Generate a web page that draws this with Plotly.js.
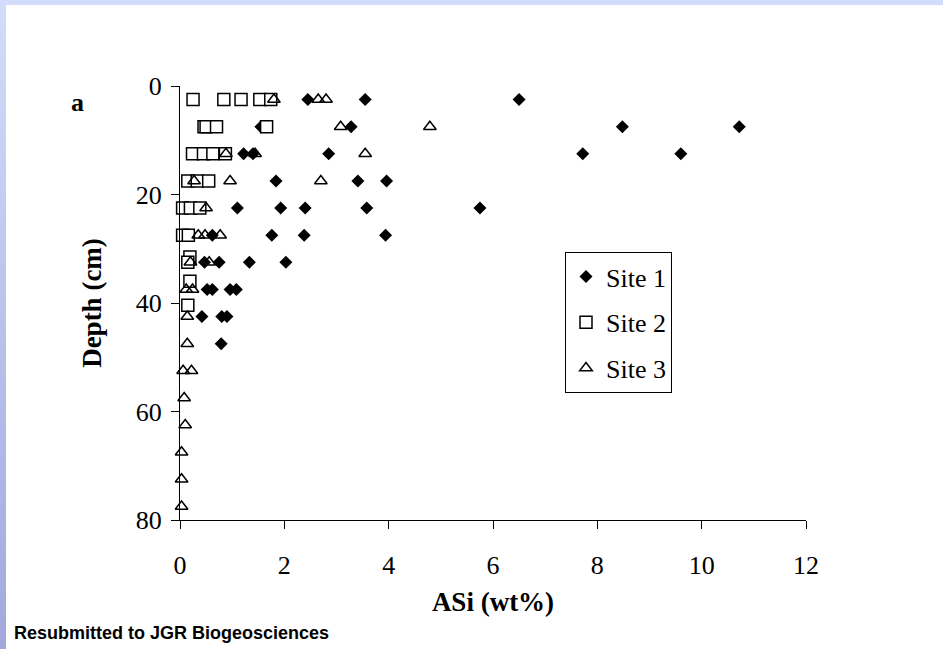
<!DOCTYPE html>
<html>
<head>
<meta charset="utf-8">
<script src="https://cdn.plot.ly/plotly-3.0.1.min.js"></script>
<style>
  html, body { margin: 0; padding: 0; background: #ffffff; width: 943px; height: 649px; overflow: hidden; }
  #topstrip { position: absolute; left: 0; top: 0; width: 943px; height: 5px; background: #d3dcfb; }
  #leftstrip { position: absolute; left: 0; top: 0; width: 6px; height: 649px; background: linear-gradient(to bottom, #d3dcfb, #a2a8dc); }
  #chart { position: absolute; left: 0; top: 0; width: 943px; height: 649px; }
</style>
</head>
<body>
<div id="topstrip"></div>
<div id="leftstrip"></div>
<div id="chart"></div>
<script>
// Site 1 (filled diamonds)
const site1Depth = [2.5, 2.5, 2.5,
  7.5, 7.5, 7.5, 7.5,
  12.5, 12.5, 12.5, 12.5, 12.5,
  17.5, 17.5, 17.5,
  22.5, 22.5, 22.5, 22.5, 22.5,
  27.5, 27.5, 27.5, 27.5,
  32.5, 32.5, 32.5, 32.5,
  37.5, 37.5, 37.5, 37.5,
  42.5, 42.5, 42.5,
  47.5];
const site1ASi = [2.45, 3.55, 6.5,
  1.55, 3.28, 8.48, 10.72,
  1.22, 1.40, 2.85, 7.72, 9.6,
  1.84, 3.41, 3.96,
  1.1, 1.93, 2.4, 3.58, 5.75,
  0.62, 1.76, 2.38, 3.94,
  0.47, 0.75, 1.33, 2.03,
  0.52, 0.62, 0.96, 1.08,
  0.42, 0.8, 0.9,
  0.79];

// Site 2 (open squares)
const site2Depth = [2.5, 2.5, 2.5, 2.5, 2.5,
  7.5, 7.5, 7.5, 7.5,
  12.5, 12.5, 12.5, 12.5,
  17.5, 17.5, 17.5,
  22.5, 22.5, 22.5,
  27.5, 27.5,
  31.5, 32.5,
  36, 40.4];
const site2ASi = [0.25, 0.84, 1.17, 1.53, 1.74,
  0.46, 0.5, 0.7, 1.66,
  0.24, 0.45, 0.63, 0.87,
  0.15, 0.33, 0.55,
  0.05, 0.2, 0.38,
  0.05, 0.16,
  0.19, 0.15,
  0.19, 0.15];

// Site 3 (open triangles)
const site3Depth = [2.5, 2.5, 2.5,
  7.5, 7.5,
  12.5, 12.5, 12.5,
  17.5, 17.5, 17.5,
  22.5,
  27.5, 27.5, 27.5,
  32.5, 32.5,
  37.5, 37.5,
  42.5,
  47.5,
  52.5, 52.5,
  57.5, 62.5, 67.5, 72.5, 77.5];
const site3ASi = [1.8, 2.65, 2.8,
  3.08, 4.79,
  0.88, 1.44, 3.55,
  0.27, 0.96, 2.7,
  0.5,
  0.35, 0.48, 0.77,
  0.2, 0.56,
  0.12, 0.24,
  0.14,
  0.14,
  0.06, 0.22,
  0.08, 0.1, 0.03, 0.03, 0.03];

const seriesNames = ['Site 1', 'Site 2', 'Site 3'];
const xTickVals = [0, 2, 4, 6, 8, 10, 12];
const yTickVals = [0, 20, 40, 60, 80];

const serif = 'Liberation Serif, Times New Roman, serif';

const traces = [
  {
    x: site1ASi, y: site1Depth, name: seriesNames[0], type: 'scatter', mode: 'markers',
    legendgroup: 'g1', cliponaxis: false,
    marker: { symbol: 'diamond', size: 10, color: '#000000', line: { width: 0 } }
  },
  {
    x: site2ASi, y: site2Depth, name: seriesNames[1], type: 'scatter', mode: 'markers',
    legendgroup: 'g2', cliponaxis: false,
    marker: { symbol: 'square', size: 12, color: '#ffffff', line: { width: 1.5, color: '#000000' } }
  },
  {
    x: site3ASi, y: site3Depth, name: seriesNames[2], type: 'scatter', mode: 'markers',
    legendgroup: 'g3', cliponaxis: false,
    marker: { symbol: 'triangle-up-open', size: 11, color: '#000000', line: { width: 1.5, color: '#000000' } }
  }
];

const layout = {
  width: 943, height: 649,
  margin: { l: 180, r: 137, t: 86, b: 129, pad: 0 },
  paper_bgcolor: 'rgba(0,0,0,0)',
  plot_bgcolor: 'rgba(0,0,0,0)',
  showlegend: true,
  legend: {
    x: 0.615, y: 0.6175, xanchor: 'left', yanchor: 'top',
    bgcolor: '#ffffff', bordercolor: '#000000', borderwidth: 1,
    font: { family: serif, size: 26, color: '#000000' },
    traceorder: 'grouped', tracegroupgap: 9
  },
  xaxis: {
    range: [0, 12], tickvals: xTickVals, ticktext: xTickVals.map(String),
    ticks: 'outside', ticklen: 8, tickwidth: 1, tickcolor: '#000000',
    showline: true, linecolor: '#000000', linewidth: 1,
    showgrid: false, zeroline: false, mirror: false,
    tickfont: { family: serif, size: 26, color: '#000000' },
    ticklabelstandoff: 14,
    title: { text: '<b>ASi (wt%)</b>', font: { family: serif, size: 27, color: '#000000' }, standoff: 12 }
  },
  yaxis: {
    range: [80, 0], tickvals: yTickVals, ticktext: yTickVals.map(String),
    ticks: 'outside', ticklen: 8, tickwidth: 1, tickcolor: '#000000',
    showline: true, linecolor: '#000000', linewidth: 1,
    showgrid: false, zeroline: false, mirror: false,
    tickfont: { family: serif, size: 26, color: '#000000' },
    ticklabelstandoff: 4,
    title: { text: '<b>Depth (cm)</b>', font: { family: serif, size: 27, color: '#000000' }, standoff: 26 }
  },
  annotations: [
    {
      text: '<b>a</b>', xref: 'paper', yref: 'paper', x: -0.1645, y: 0.961,
      xanchor: 'center', yanchor: 'middle', showarrow: false,
      font: { family: serif, size: 26, color: '#000000' }
    },
    {
      text: '<b>Resubmitted to JGR Biogeosciences</b>', xref: 'paper', yref: 'paper',
      x: -0.268, y: -0.26, xanchor: 'left', yanchor: 'middle', showarrow: false,
      font: { family: 'Liberation Sans, Arial, sans-serif', size: 18, color: '#000000' }
    }
  ]
};

Plotly.newPlot('chart', traces, layout, { displayModeBar: false, staticPlot: true });
</script>
</body>
</html>
